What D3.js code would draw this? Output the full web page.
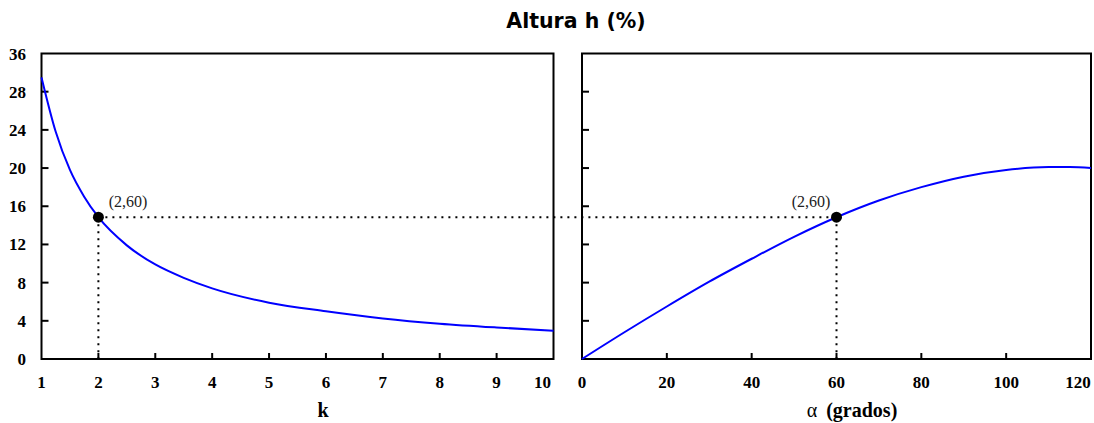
<!DOCTYPE html>
<html>
<head>
<meta charset="utf-8">
<script src="https://cdn.jsdelivr.net/npm/d3@7"></script>
<style>
  body { margin: 0; background: #fff; }
  .tick-label { font-family: 'Liberation Serif', 'DejaVu Serif', serif; font-weight: bold; font-size: 17px; fill: #000; }
  .note { font-family: 'Liberation Serif', serif; font-size: 16px; fill: #222; }
</style>
</head>
<body>
<svg id="chart" width="1094" height="423"></svg>
<script>
// left panel: h vs k
const kValues = [1, 1.25, 1.5, 1.75, 2, 2.5, 3, 3.5, 4, 5, 6, 7, 8, 9, 10]
const hByK = [29.5, 23.8, 19.8, 17.0, 14.85, 11.9, 9.9, 8.5, 7.4, 5.9, 5.0, 4.25, 3.7, 3.3, 2.97]
// right panel: h vs alpha
const alphaValues = [0, 10, 20, 30, 40, 50, 60, 70, 80, 90, 100, 110, 115, 120]
const hByAlpha = [0, 2.8, 5.5, 8.1, 10.5, 12.8, 14.85, 16.6, 18.0, 19.1, 19.8, 20.1, 20.1, 20.0]

const yTicks = [0, 4, 8, 12, 16, 20, 24, 28, 32]
const yTickLabels = ['0', '4', '8', '12', '16', '20', '24', '28', '36']
const kTicks = [1, 2, 3, 4, 5, 6, 7, 8, 9, 10]
const alphaTicks = [0, 20, 40, 60, 80, 100, 120]

const marker = { k: 2, alpha: 60, h: 14.85, label: '(2,60)' }

const svg = d3.select('#chart')
const plotTop = 53.5
const plotBottom = 359
const tickLen = 7

const y = d3.scaleLinear().domain([0, 32]).range([plotBottom, plotTop])
const xK = d3.scaleLinear().domain([1, 10]).range([41.5, 553.5])
const xA = d3.scaleLinear().domain([0, 120]).range([582, 1091])

// title
svg.append('text')
  .attr('x', 576).attr('y', 28)
  .attr('text-anchor', 'middle')
  .style('font-family', "'DejaVu Sans', sans-serif")
  .style('font-weight', 'bold')
  .style('font-size', '20.5px')
  .text('Altura h (%)')

function drawFrame (x) {
  const [x0, x1] = x.range()
  svg.append('rect')
    .attr('x', x0).attr('y', plotTop)
    .attr('width', x1 - x0).attr('height', plotBottom - plotTop)
    .attr('fill', 'none').attr('stroke', '#000').attr('stroke-width', 2)
}

function drawTicks (x, xTicks, lastShift) {
  const x0 = x.range()[0]
  yTicks.slice(1, -1).forEach(t => {
    svg.append('line')
      .attr('x1', x0).attr('x2', x0 + tickLen)
      .attr('y1', y(t)).attr('y2', y(t))
      .attr('stroke', '#000').attr('stroke-width', 2)
  })
  xTicks.slice(1, -1).forEach(t => {
    svg.append('line')
      .attr('x1', x(t)).attr('x2', x(t))
      .attr('y1', plotBottom).attr('y2', plotBottom - tickLen + 1)
      .attr('stroke', '#000').attr('stroke-width', 2)
  })
  xTicks.forEach((t, i) => {
    const shift = i === xTicks.length - 1 ? lastShift : 0
    svg.append('text')
      .attr('class', 'tick-label')
      .attr('x', x(t) + shift).attr('y', 388)
      .attr('text-anchor', 'middle')
      .text(t)
  })
}

drawFrame(xK)
drawFrame(xA)
drawTicks(xK, kTicks, -11)
drawTicks(xA, alphaTicks, -13)

// y labels on the left panel only
yTicks.forEach((t, i) => {
  svg.append('text')
    .attr('class', 'tick-label')
    .attr('x', 26).attr('y', y(t) + 6)
    .attr('text-anchor', 'end')
    .text(yTickLabels[i])
})

// axis titles
svg.append('text')
  .attr('class', 'tick-label')
  .attr('x', 323).attr('y', 417)
  .attr('text-anchor', 'middle')
  .style('font-size', '20px')
  .text('k')

const alphaTitle = svg.append('text')
  .attr('class', 'tick-label')
  .attr('x', 852).attr('y', 417)
  .attr('text-anchor', 'middle')
  .style('font-size', '20px')
alphaTitle.append('tspan').style('font-weight', 'normal').text('α')
alphaTitle.append('tspan').attr('dx', 9).text('(grados)')

// curves
const lineK = d3.line().x((d, i) => xK(kValues[i])).y(d => y(d)).curve(d3.curveMonotoneX)
const lineA = d3.line().x((d, i) => xA(alphaValues[i])).y(d => y(d)).curve(d3.curveMonotoneX)

svg.append('path').attr('d', lineK(hByK))
  .attr('fill', 'none').attr('stroke', '#0000ff').attr('stroke-width', 2)
svg.append('path').attr('d', lineA(hByAlpha))
  .attr('fill', 'none').attr('stroke', '#0000ff').attr('stroke-width', 2)

// dotted guides
const dotted = { stroke: '#000', 'stroke-width': 2, 'stroke-dasharray': '2,5' }
function guide (x1, y1, x2, y2) {
  const l = svg.append('line').attr('x1', x1).attr('y1', y1).attr('x2', x2).attr('y2', y2)
  Object.entries(dotted).forEach(([k, v]) => l.attr(k, v))
}
guide(xK(marker.k), y(marker.h), xA(marker.alpha), y(marker.h))
guide(xK(marker.k), y(marker.h), xK(marker.k), plotBottom)
guide(xA(marker.alpha), y(marker.h), xA(marker.alpha), plotBottom)

// markers and notes
;[[xK(marker.k), 128], [xA(marker.alpha), 811]].forEach(([cx, tx]) => {
  svg.append('circle').attr('cx', cx).attr('cy', y(marker.h)).attr('r', 5.5).attr('fill', '#000')
  svg.append('text').attr('class', 'note')
    .attr('x', tx).attr('y', 207)
    .attr('text-anchor', 'middle')
    .text(marker.label)
})
</script>
</body>
</html>
